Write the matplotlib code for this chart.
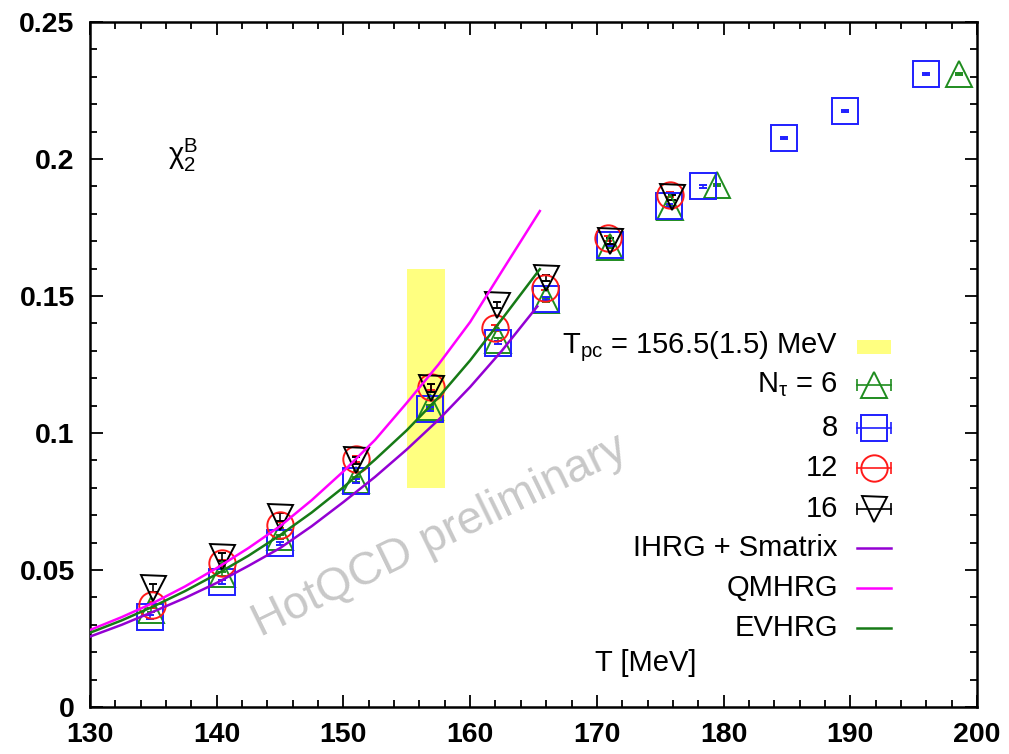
import numpy as np
import matplotlib.pyplot as plt
from matplotlib.ticker import MultipleLocator, FixedLocator, FixedFormatter

plt.rcParams['font.family'] = ['Liberation Sans', 'DejaVu Sans']
plt.rcParams['mathtext.fontset'] = 'custom'
plt.rcParams['mathtext.rm'] = 'Liberation Sans'
plt.rcParams['mathtext.default'] = 'regular'

# lattice data, chi2^B vs T [MeV]
T6 = [134.8, 140.4, 145.0, 151.0, 156.8, 162.2, 166.0, 171.0, 175.8, 179.5, 198.6]
chi6 = [0.0355, 0.0485, 0.0620, 0.0830, 0.1095, 0.1340, 0.1485, 0.1680, 0.1825, 0.1905, 0.2310]
err6 = [0.0008, 0.0008, 0.0008, 0.0008, 0.0008, 0.0006, 0.0006, 0.0005, 0.0005, 0.0005, 0.0005]

T8 = [134.7, 140.4, 145.0, 151.0, 156.8, 162.2, 166.0, 171.0, 175.7, 178.4, 184.8, 189.6, 196.0]
chi8 = [0.0328, 0.0456, 0.0598, 0.0825, 0.1088, 0.1330, 0.1490, 0.1686, 0.1830, 0.1900, 0.2077, 0.2175, 0.2310]
err8 = [0.0006, 0.0006, 0.0006, 0.0006, 0.0006, 0.0005, 0.0005, 0.0005, 0.0005, 0.0005, 0.0005, 0.0005, 0.0005]

T12 = [134.9, 140.4, 145.0, 151.0, 156.9, 162.0, 165.9, 170.9, 175.8]
chi12 = [0.0372, 0.0525, 0.0664, 0.0905, 0.1168, 0.1383, 0.1530, 0.1710, 0.1870]
err12 = [0.0012, 0.0012, 0.0012, 0.0012, 0.0010, 0.0010, 0.0008, 0.0008, 0.0008]

T16 = [135.0, 140.4, 145.0, 151.0, 156.9, 162.1, 166.0, 171.0, 175.9]
chi16 = [0.0434, 0.0547, 0.0693, 0.0900, 0.1164, 0.1467, 0.1566, 0.1700, 0.1860]
err16 = [0.0015, 0.0015, 0.0015, 0.0014, 0.0014, 0.0012, 0.0012, 0.0010, 0.0010]

# HRG curves
T_hrg = [130, 132.5, 135, 137.5, 140, 142.5, 145, 147.5, 150, 152.5, 155, 157.5, 160, 162.5]
ihrg = [0.0257, 0.0300, 0.0348, 0.0398, 0.0453, 0.0515, 0.0580, 0.0660, 0.0748, 0.0840, 0.0940, 0.1048, 0.1168, 0.1300]
qmhrg = [0.0281, 0.0328, 0.0380, 0.0440, 0.0507, 0.0580, 0.0660, 0.0755, 0.0860, 0.0975, 0.1110, 0.1250, 0.1405, 0.1590]
evhrg = [0.0271, 0.0316, 0.0367, 0.0423, 0.0485, 0.0552, 0.0627, 0.0710, 0.0802, 0.0903, 0.1010, 0.1130, 0.1265, 0.1415]
T_end = [165.3, 165.5, 165.5]
end_vals = [0.1462, 0.1810, 0.1598]

Tpc_lo, Tpc_hi = 155.0, 158.0
band_lo, band_hi = 0.08, 0.16

yticks = [0, 0.05, 0.1, 0.15, 0.2, 0.25]
ylabels = ['0', '0.05', '0.1', '0.15', '0.2', '0.25']

c_green = '#1f8c1f'
c_blue = '#1f1fff'
c_red = '#ff1a1a'
c_purple = '#9400d3'
c_magenta = '#ff00ff'
c_evhrg = '#167a16'
c_yellow = '#ffff80'

fig = plt.figure(figsize=(10.09, 7.54), dpi=100)
ax = fig.add_axes([90 / 1009, 1 - 707 / 754, 887 / 1009, 685 / 754])

ax.fill_between([Tpc_lo, Tpc_hi], band_lo, band_hi, color=c_yellow, lw=0, zorder=1)

ax.text(158.0, 0.0585, 'HotQCD preliminary', rotation=26, rotation_mode='anchor',
        ha='center', va='baseline', fontsize=33, color='#c8c8c8', zorder=1)

mk = dict(ls='none', mfc='none', mew=1.4, capsize=3, elinewidth=1.2, capthick=1.2, zorder=3)
ax.errorbar(T6, chi6, yerr=err6, marker='^', ms=19, color=c_green, **mk)
ax.errorbar(T8, chi8, yerr=err8, marker='s', ms=19, color=c_blue, **mk)
ax.errorbar(T12, chi12, yerr=err12, marker='o', ms=19, color=c_red, **mk)
ax.errorbar(T16, chi16, yerr=err16, marker='v', ms=18, color='black', **mk)

for vals, end_T, end_v, col in [(ihrg, T_end[0], end_vals[0], c_purple),
                                (qmhrg, T_end[1], end_vals[1], c_magenta),
                                (evhrg, T_end[2], end_vals[2], c_evhrg)]:
    ax.plot(T_hrg + [end_T], vals + [end_v], color=col, lw=1.8, zorder=4)

ax.set_xlim(130, 200)
ax.set_ylim(0, 0.25)
ax.xaxis.set_major_locator(MultipleLocator(10))
ax.xaxis.set_minor_locator(MultipleLocator(2))
ax.yaxis.set_major_locator(FixedLocator(yticks))
ax.yaxis.set_major_formatter(FixedFormatter(ylabels))
ax.yaxis.set_minor_locator(MultipleLocator(0.01))
ax.tick_params(which='both', direction='in', top=True, right=True, width=1.3)
ax.tick_params(which='major', length=9, labelsize=20.5, pad=11)
ax.tick_params(which='minor', length=5)
for lab in ax.get_xticklabels() + ax.get_yticklabels():
    lab.set_fontweight('bold')
for s in ax.spines.values():
    s.set_linewidth(1.8)

ax.text(0.088, 0.805, r'$\chi_2^B$', transform=ax.transAxes, fontsize=21, ha='left', va='center')
ax.text(0.626, 0.064, 'T [MeV]', transform=ax.transAxes, fontsize=21, ha='center', va='center')

# legend, drawn by hand in gnuplot style
xt, xs, hw = 0.843, 0.884, 0.019
rows = [0.5255, 0.470, 0.407, 0.349, 0.289, 0.232, 0.174, 0.115]
labels = [r'T$_{pc}$ = 156.5(1.5) MeV', r'N$_\tau$ = 6', '8', '12', '16',
          'IHRG + Smatrix', 'QMHRG', 'EVHRG']
for y, lab in zip(rows, labels):
    ax.text(xt, y, lab, transform=ax.transAxes, fontsize=21, ha='right', va='center')

ax.fill_between([xs - hw, xs + hw], rows[0] - 0.010, rows[0] + 0.010, color=c_yellow, lw=0,
                transform=ax.transAxes)
for y, m, ms, col in [(rows[1], '^', 19, c_green), (rows[2], 's', 19, c_blue),
                      (rows[3], 'o', 19, c_red), (rows[4], 'v', 18, 'black')]:
    ax.plot([xs - hw, xs + hw], [y, y], color=col, lw=1.2, transform=ax.transAxes, clip_on=False)
    ax.plot([xs - hw, xs + hw], [y, y], ls='none', marker='|', ms=9, mew=1.2, color=col,
            transform=ax.transAxes, clip_on=False)
    ax.plot([xs], [y], ls='none', marker=m, ms=ms, mfc='none', mew=1.4, color=col,
            transform=ax.transAxes, clip_on=False)
for y, col in [(rows[5], c_purple), (rows[6], c_magenta), (rows[7], c_evhrg)]:
    ax.plot([xs - hw, xs + hw], [y, y], color=col, lw=1.8, transform=ax.transAxes)

fig.savefig('out.png', dpi=100)
